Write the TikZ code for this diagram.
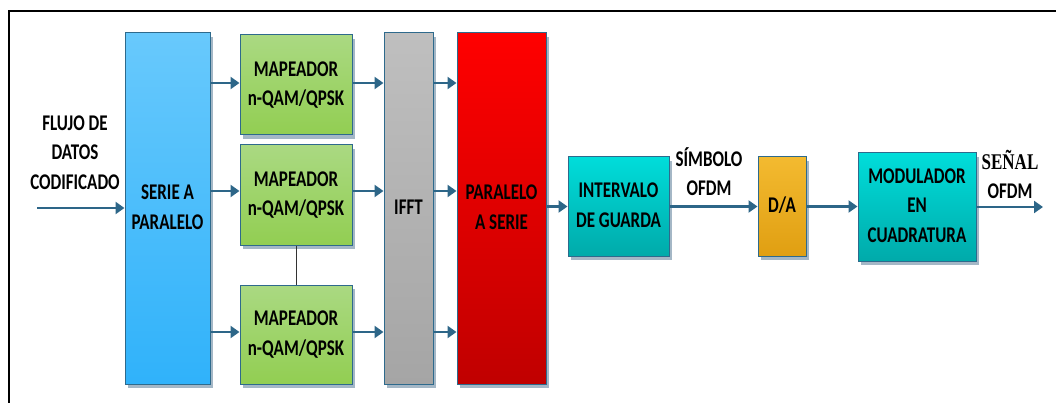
\documentclass[tikz,border=0pt]{standalone}
\usepackage{fontspec}
\usepackage{graphicx}
\setmainfont{Carlito}
\newfontfamily\serifb{Liberation Serif}
\usetikzlibrary{shadows,arrows.meta}
\definecolor{edgec}{HTML}{2E6A8C}
\definecolor{arrc}{HTML}{2D6688}
\definecolor{shadc}{HTML}{7E98AE}
\newcommand{\vt}[1]{\scalebox{1}[1.32]{\begin{tabular}{@{}c@{}}#1\end{tabular}}}
\tikzset{
  box/.style={draw=edgec, line width=1pt, inner sep=0pt, align=center,
    font=\fontsize{17}{22.7}\selectfont\bfseries,
    drop shadow={shadow xshift=3pt, shadow yshift=-4pt, fill=shadc, opacity=0.7}},
  lbl/.style={align=center, font=\fontsize{17}{22.7}\selectfont\bfseries, inner sep=0pt},
  flow/.style={draw=arrc, line width=2.6pt, -{Triangle[length=9pt,width=12pt]}},
}
\definecolor{blueT}{HTML}{68C9FC}
\definecolor{blueB}{HTML}{30B2FA}
\definecolor{greenT}{HTML}{AAD982}
\definecolor{greenB}{HTML}{92CE52}
\definecolor{greyT}{HTML}{BFBFBF}
\definecolor{greyB}{HTML}{A5A5A5}
\definecolor{redT}{HTML}{FF0000}
\definecolor{redB}{HTML}{C00000}
\definecolor{tealT}{HTML}{00DDDA}
\definecolor{tealB}{HTML}{00AAAA}
\definecolor{orT}{HTML}{F3BA30}
\definecolor{orB}{HTML}{E09F12}
\begin{document}
\begin{tikzpicture}[x=1pt,y=-1pt]
\useasboundingbox (0,0) rectangle (1056,403);
\draw[line width=2pt] (9,403) -- (9,11) -- (1056,11);
% boxes
\node[box, top color=blueT, bottom color=blueB, minimum width=85pt, minimum height=351pt] (sp) at (167.5,208.5) {\vt{SERIE A\\PARALELO}};
\node[box, top color=greenT, bottom color=greenB, minimum width=112pt, minimum height=100pt] (m1) at (296,85) {\vt{MAPEADOR\\n-QAM/QPSK}};
\node[box, top color=greenT, bottom color=greenB, minimum width=112pt, minimum height=100pt] (m2) at (296,195) {\vt{MAPEADOR\\n-QAM/QPSK}};
\node[box, top color=greenT, bottom color=greenB, minimum width=112pt, minimum height=99pt] (m3) at (296,334.5) {\vt{MAPEADOR\\n-QAM/QPSK}};
\node[box, top color=greyT, bottom color=greyB, minimum width=49pt, minimum height=351pt] (ifft) at (408.5,208.5) {\vt{IFFT}};
\node[box, top color=redT, bottom color=redB, minimum width=89pt, minimum height=351pt] (ps) at (501.5,208.5) {\vt{PARALELO\\A SERIE}};
\node[box, top color=tealT, bottom color=tealB, minimum width=101pt, minimum height=99pt] (ig) at (618.5,206.5) {\vt{INTERVALO\\DE GUARDA}};
\node[box, top color=orT, bottom color=orB, minimum width=48pt, minimum height=99pt] (da) at (782,206.5) {\vt{D/A}};
\node[box, top color=tealT, bottom color=tealB, minimum width=118pt, minimum height=108pt] (mod) at (917,207) {\vt{MODULADOR\\EN\\CUADRATURA}};
% labels
\node[lbl] (flujo) at (75,154) {\vt{FLUJO DE\\DATOS\\CODIFICADO}};
\node[lbl] (simb) at (709,175) {\vt{SÍMBOLO\\OFDM}};
\node[lbl] (senal) at (1010,178) {\vt{{\serifb SEÑAL}\\OFDM}};
% connectors
\coordinate (in) at (37,208);
\coordinate (out) at (1043,207);
\draw[flow] (in) -- (in -| sp.west);
\foreach \m/\yy in {m1/83, m2/191, m3/332}{
  \draw[flow] (sp.east |- 0,\yy) -- (\m.west |- 0,\yy);
  \draw[flow] (\m.east |- 0,\yy) -- (ifft.west |- 0,\yy);
  \draw[flow] (ifft.east |- 0,\yy) -- (ps.west |- 0,\yy);
}
\draw[line width=0.8pt, black!80] (m2.south) -- (m3.north);
\draw[flow] (ps.east |- ig.west) -- (ig.west);
\draw[flow] (ig.east) -- (da.west);
\draw[flow] (da.east) -- (mod.west |- da.east);
\draw[flow] (mod.east |- out) -- (out);
\end{tikzpicture}
\end{document}
